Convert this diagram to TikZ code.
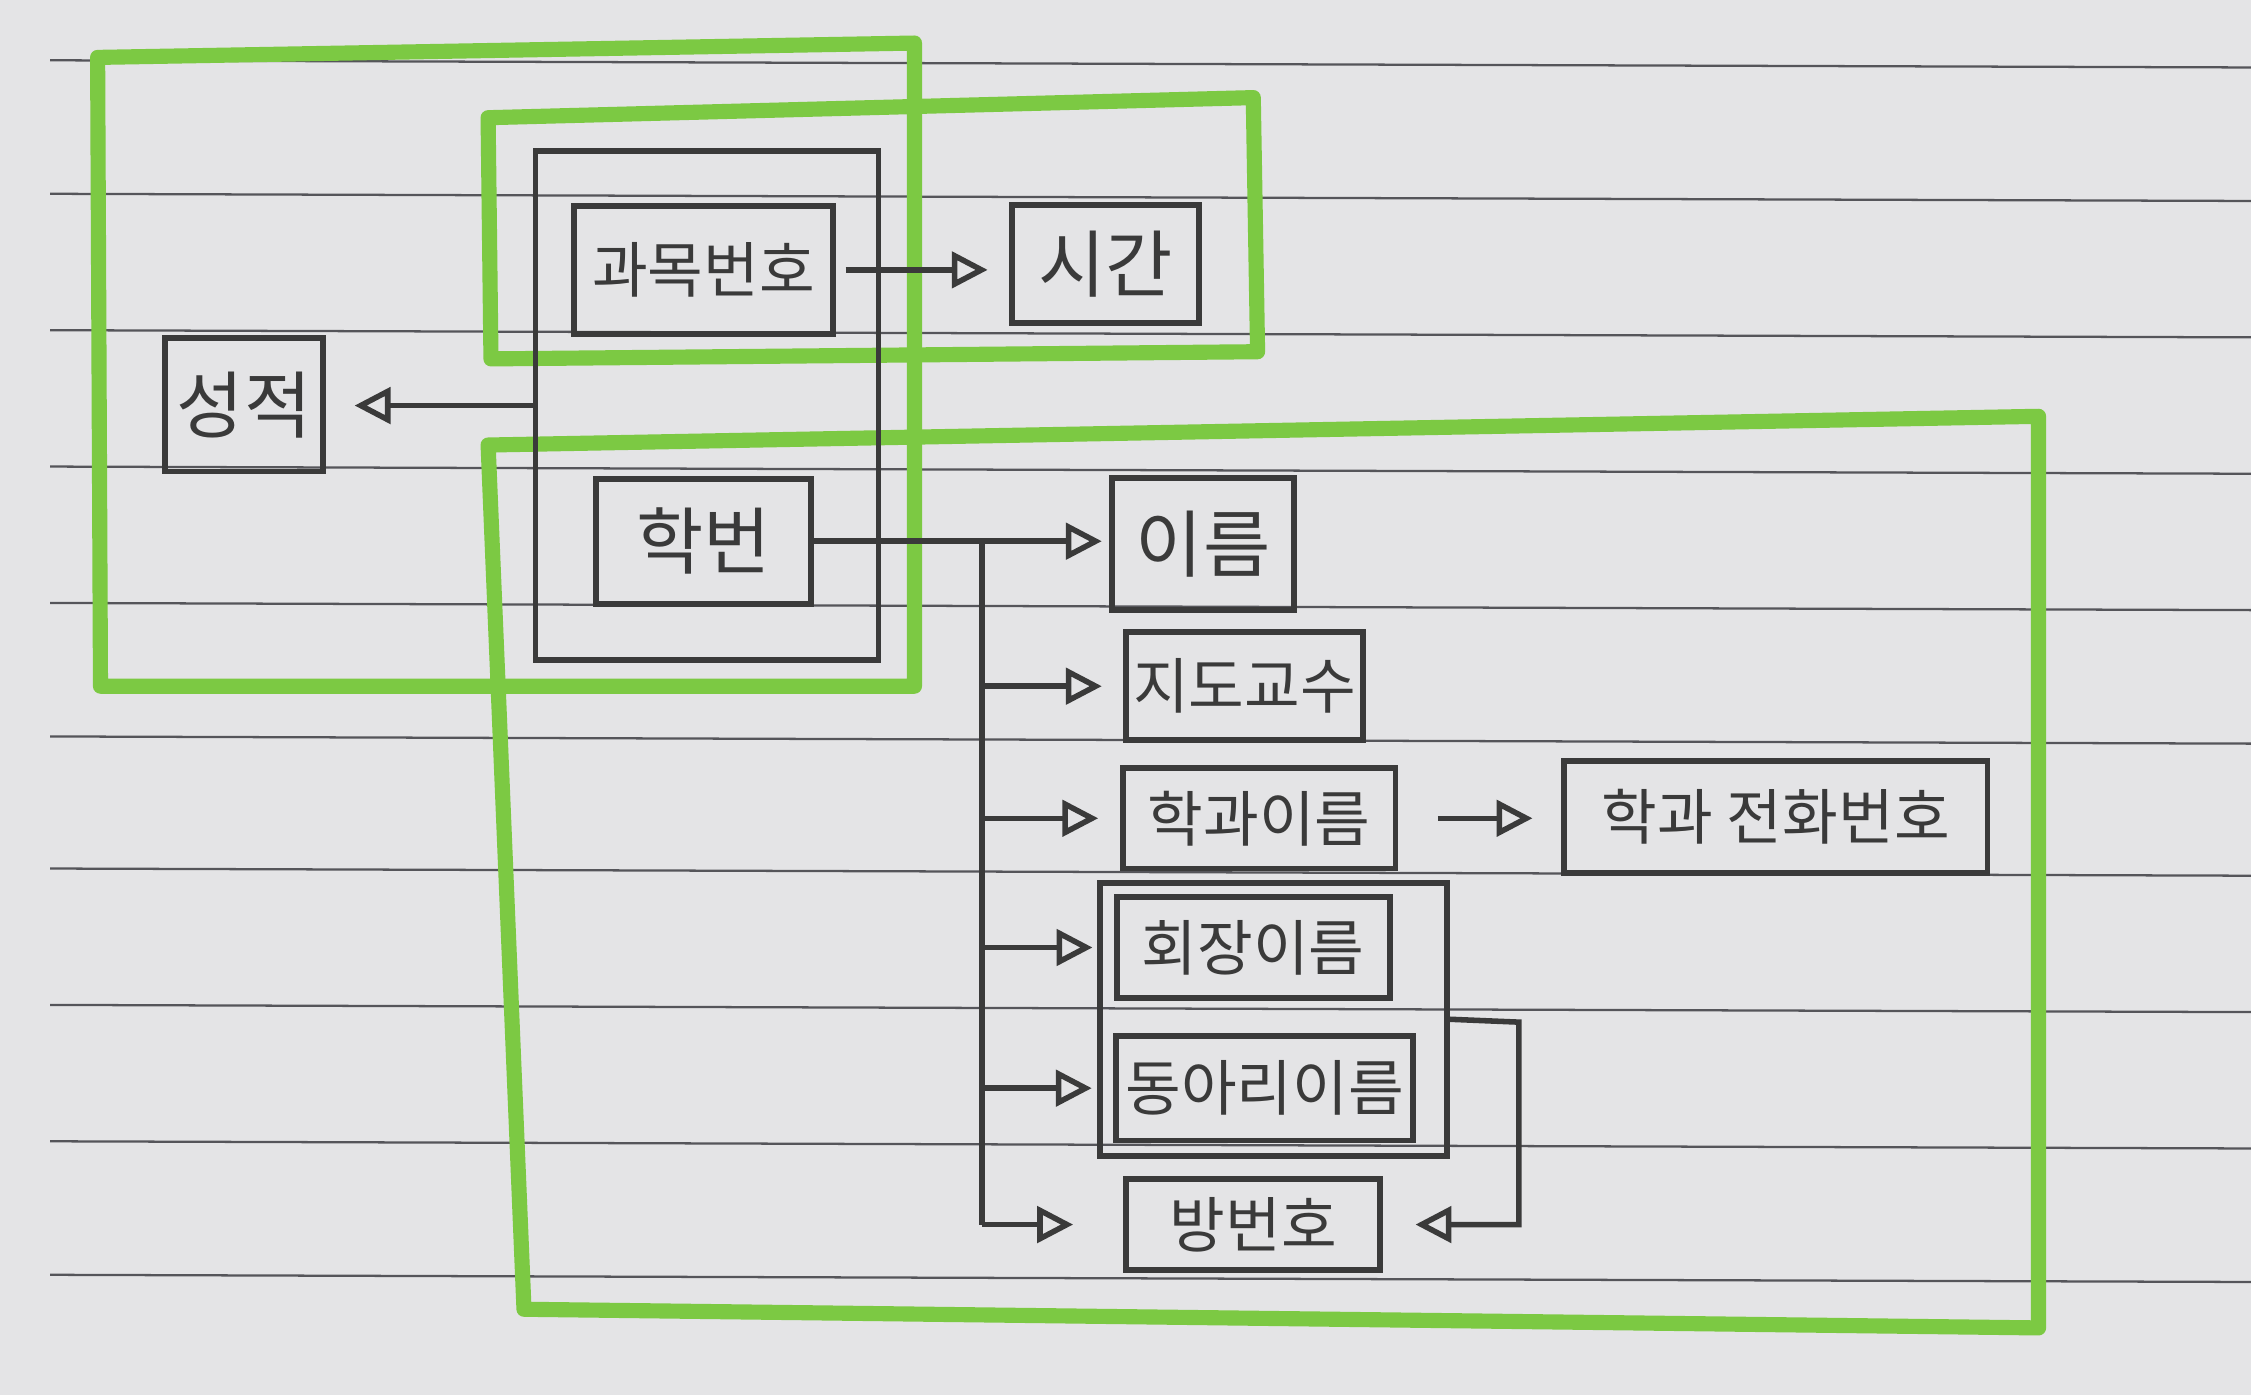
\documentclass[tikz,border=0pt]{standalone}
\usepackage{fontspec}
\setmainfont{Noto Sans CJK KR}
\usetikzlibrary{arrows.meta}
\definecolor{paper}{HTML}{E4E4E6}
\definecolor{ink}{HTML}{3A3A3A}
\definecolor{rule}{HTML}{55555A}
\definecolor{marker}{HTML}{7CC943}
\tikzset{
  sz/.style 2 args={minimum width=#1*0.02cm, minimum height=#2*0.02cm},
  attr/.style={draw=ink, line width=2.3pt, inner sep=0pt, text=ink, font=\fontsize{24}{26}\selectfont},
  big/.style={font=\fontsize{29}{31}\selectfont},
  grp/.style={draw=ink, line width=2.3pt, inner sep=0pt},
  arr/.style={draw=ink, line width=2.2pt, -{Triangle[open, length=0.5cm, width=0.5cm]}},
  conn/.style={draw=ink, line width=2.2pt},
  hl/.style={draw=marker, line width=6pt, line join=round, line cap=round},
  ruling/.style={draw=rule, line width=0.9pt}
}
\begin{document}
\begin{tikzpicture}[x=0.02cm, y=-0.02cm]
  % paper
  \fill[paper] (0,0) rectangle (1568,972);
  \useasboundingbox (0,0) rectangle (1568,972);
  % ruled lines
  \foreach \yy in {42,135,230,325,420,513,605,700,795,888}
    \draw[ruling] (35,\yy) -- (1568,\yy+5);

  % green groupings
  \draw[hl] (68,40) -- (637,30) -- (637,478) -- (70,478) -- cycle;
  \draw[hl] (340,82) -- (873,68) -- (876,245) -- (342,250) -- cycle;
  \draw[hl] (340,310) -- (1420,290) -- (1420,925) -- (365,912) -- cycle;

  % composite key box and group box
  \node[grp, sz={239}{355}] (keybox) at (492.5,282.5) {};
  \node[grp, sz={242}{190}] (club) at (887,710) {};

  % attribute boxes
  \node[attr, sz={180}{89}] (gwamok) at (490,188) {과목번호};
  \node[attr, big, sz={130}{82}] (sigan) at (770,184) {시간};
  \node[attr, big, sz={110}{93}] (seongjeok) at (170,282) {성적};
  \node[attr, big, sz={150}{87}] (hakbeon) at (490,377) {학번};
  \node[attr, big, sz={127}{92}] (ireum) at (838,379) {이름};
  \node[attr, sz={165}{75}] (jido) at (867,478) {지도교수};
  \node[attr, sz={190}{70}] (hakgwa) at (877,570) {학과이름};
  \node[attr, sz={295}{78}] (jeonhwa) at (1237,569) {학과 전화번호};
  \node[attr, sz={190}{70}] (hoejang) at (873,660) {회장이름};
  \node[attr, sz={207}{73}] (dongari) at (881,758) {동아리이름};
  \node[attr, sz={177}{63}] (bang) at (873,853) {방번호};

  % connectors
  \draw[arr, shorten <=4pt, shorten >=0.3cm] (gwamok.east) -- (gwamok.east -| sigan.west);
  \draw[arr, shorten >=0.4cm] (keybox.west) -- (keybox.west -| seongjeok.east);

  \coordinate (br) at (684,377);
  \coordinate (brend) at (684,853);
  \draw[conn] (br) -- (brend);
  \draw[arr, shorten >=0.1cm] (hakbeon.east) -- (hakbeon.east -| ireum.west);
  \draw[arr, shorten >=0.3cm] (br |- jido.west) -- (jido.west);
  \draw[arr, shorten >=0.3cm] (br |- hakgwa.west) -- (hakgwa.west);
  \draw[arr, shorten >=0.3cm] (br |- hoejang.west) -- (hoejang.west);
  \draw[arr, shorten >=0.3cm] (br |- dongari.west) -- (dongari.west);
  \draw[arr, shorten >=0.7cm] (brend) -- (bang.west);

  \draw[arr, shorten <=0.55cm, shorten >=0.4cm] (hakgwa.east) -- (hakgwa.east -| jeonhwa.west);

  \coordinate (turn) at (1058,712);
  \draw[arr, shorten >=0.45cm] (club.east) -- (turn) |- (bang.east);
\end{tikzpicture}
\end{document}
